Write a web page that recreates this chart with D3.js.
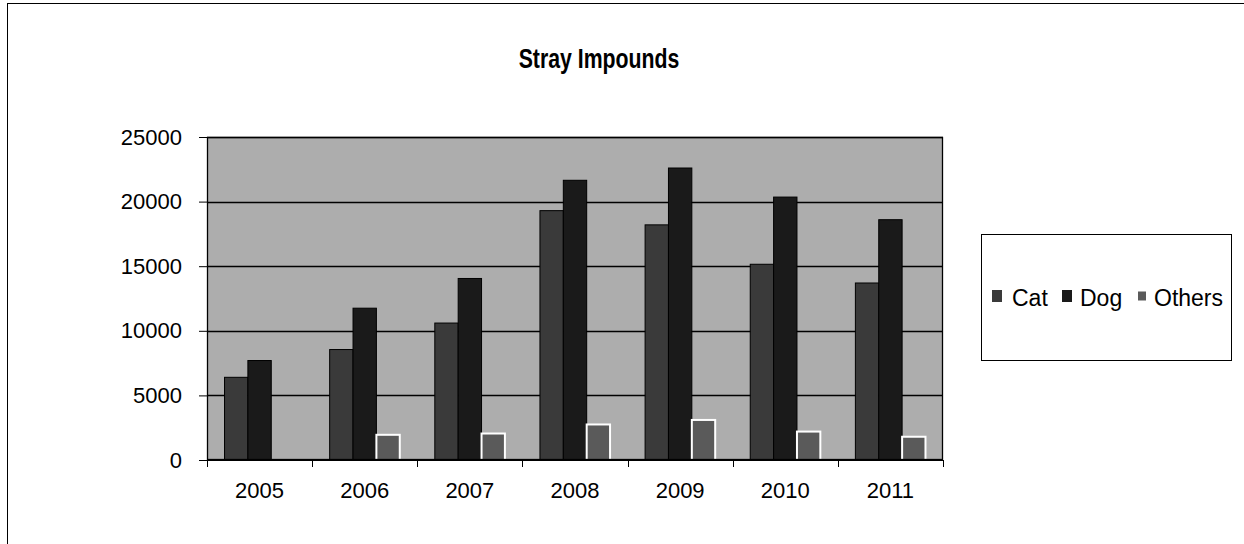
<!DOCTYPE html>
<html>
<head>
<meta charset="utf-8">
<script src="https://cdn.jsdelivr.net/npm/d3@7/dist/d3.min.js"></script>
<style>
  html, body { margin: 0; padding: 0; background: #fff; }
  svg { display: block; font-family: "Liberation Sans", Arial, sans-serif; }
</style>
</head>
<body>
<svg id="chart" width="1244" height="544"></svg>
<script>
// Stray impounds by year and animal type
const years = ["2005", "2006", "2007", "2008", "2009", "2010", "2011"];
const seriesNames = ["Cat", "Dog", "Others"];
const cat = [6400, 8550, 10600, 19300, 18200, 15150, 13700];
const dog = [7700, 11750, 14050, 21650, 22600, 20350, 18600];
const others = [0, 1950, 2050, 2750, 3100, 2200, 1800];
const yTicks = [0, 5000, 10000, 15000, 20000, 25000];

const seriesValues = [cat, dog, others];
const fills = ["#3a3a3a", "#1a1a1a", "#5a5a5a"];
const strokes = ["#000", "#000", "#fff"];

const svg = d3.select("#chart");

const plot = { left: 207, top: 137, right: 943, bottom: 460 };

// chart frame (left and top edges)
svg.append("line").attr("x1", 7.5).attr("x2", 7.5).attr("y1", 3).attr("y2", 544)
  .attr("stroke", "#000").attr("stroke-width", 1);
svg.append("line").attr("x1", 7).attr("x2", 1244).attr("y1", 3.5).attr("y2", 3.5)
  .attr("stroke", "#000").attr("stroke-width", 1);

// title, set in a condensed bold face
svg.append("text").attr("transform", "translate(599,68) scale(0.76,1)")
  .attr("text-anchor", "middle")
  .attr("font-size", 28).attr("font-weight", "bold").text("Stray Impounds");

const x0 = d3.scaleBand().domain(years).range([plot.left, plot.right]).paddingInner(0).paddingOuter(0);
const x1 = d3.scaleBand().domain(seriesNames).range([0, x0.bandwidth()]).paddingInner(0).paddingOuter(0.75);
const y = d3.scaleLinear().domain([0, 25000]).range([plot.bottom, plot.top]);

// plot background
svg.append("rect").attr("x", plot.left).attr("y", plot.top)
  .attr("width", plot.right - plot.left).attr("height", plot.bottom - plot.top)
  .attr("fill", "#adadad");

// gridlines
svg.append("g").selectAll("line").data(yTicks.filter(d => d > 0)).join("line")
  .attr("x1", plot.left).attr("x2", plot.right)
  .attr("y1", d => Math.round(y(d)) + 0.5).attr("y2", d => Math.round(y(d)) + 0.5)
  .attr("stroke", "#000").attr("stroke-width", 1.3);

// bars
const groups = svg.append("g").selectAll("g").data(years).join("g")
  .attr("transform", d => `translate(${x0(d)},0)`);
groups.selectAll("rect")
  .data((yr, i) => seriesNames.map((s, k) => ({ s, k, v: seriesValues[k][i] })).filter(d => d.v > 0))
  .join("rect")
  .attr("x", d => x1(d.s))
  .attr("y", d => y(d.v))
  .attr("width", x1.bandwidth())
  .attr("height", d => y(0) - y(d.v))
  .attr("fill", d => fills[d.k])
  .attr("stroke", d => strokes[d.k])
  .attr("stroke-width", d => d.k === 2 ? 2 : 1);

// plot border
svg.append("rect").attr("x", plot.left + 0.5).attr("y", plot.top + 0.5)
  .attr("width", plot.right - plot.left - 1).attr("height", plot.bottom - plot.top - 1)
  .attr("fill", "none").attr("stroke", "#000").attr("stroke-width", 1.3);

// y axis
const yAxis = d3.axisLeft(y).tickValues(yTicks).tickSize(8).tickPadding(17).tickFormat(d3.format("d"));
const gy = svg.append("g").attr("transform", `translate(${plot.left},0)`).call(yAxis);
gy.select(".domain").attr("stroke", "#000");
gy.selectAll("text").attr("font-size", 22).attr("fill", "#000").attr("font-family", "Liberation Sans, Arial, sans-serif");

// x axis with ticks on category boundaries
const gx = svg.append("g").attr("transform", `translate(0,${plot.bottom})`);
gx.append("line").attr("x1", plot.left).attr("x2", plot.right).attr("y1", 0.5).attr("y2", 0.5).attr("stroke", "#000");
const bounds = years.map(d => x0(d)).concat([plot.right]);
gx.selectAll("line.tick").data(bounds).join("line").attr("class", "tick")
  .attr("x1", d => Math.round(d) + 0.5).attr("x2", d => Math.round(d) + 0.5)
  .attr("y1", 0).attr("y2", 7).attr("stroke", "#000");
gx.selectAll("text").data(years).join("text")
  .attr("x", d => x0(d) + x0.bandwidth() / 2).attr("y", 38)
  .attr("text-anchor", "middle").attr("font-size", 22).text(d => d);

// legend
const lg = svg.append("g");
lg.append("rect").attr("x", 981.5).attr("y", 234.5).attr("width", 250).attr("height", 126)
  .attr("fill", "#fff").attr("stroke", "#000").attr("stroke-width", 1);
const legendItems = [
  { name: "Cat", sx: 992, tx: 1012, k: 0, w: 10, h: 12 },
  { name: "Dog", sx: 1062, tx: 1080, k: 1, w: 10, h: 12 },
  { name: "Others", sx: 1138, tx: 1154, k: 2, w: 8, h: 9 }
];
legendItems.forEach(it => {
  lg.append("rect").attr("x", it.sx).attr("y", 296 - it.h / 2).attr("width", it.w).attr("height", it.h)
    .attr("fill", fills[it.k]);
  lg.append("text").attr("x", it.tx).attr("y", 306).attr("font-size", 23).text(it.name);
});
</script>
</body>
</html>
